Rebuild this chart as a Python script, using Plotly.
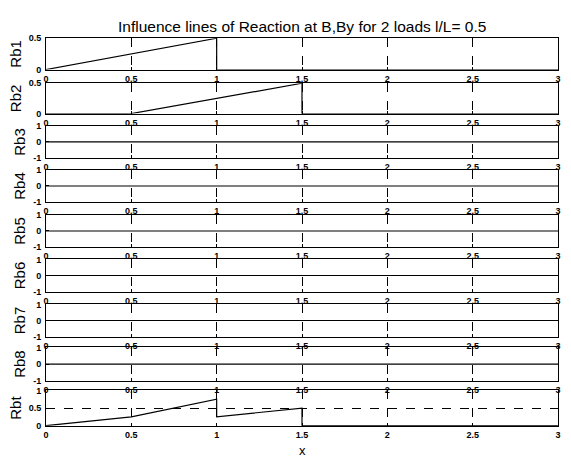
import plotly.graph_objects as go

# ---- data ----
names = ["Rb1", "Rb2", "Rb3", "Rb4", "Rb5", "Rb6", "Rb7", "Rb8", "Rbt"]
x_rb1 = [0, 1, 1, 3]
y_rb1 = [0, 0.5, 0, 0]
x_rb2 = [0, 0.5, 1.5, 1.5, 3]
y_rb2 = [0, 0, 0.5, 0, 0]
x_zero = [0, 3]
y_zero = [0, 0]
x_rbt = [0, 0.5, 1, 1, 1.5, 1.5, 3]
y_rbt = [0, 0.25, 0.75, 0.25, 0.5, 0, 0]
x_ticks = [0, 0.5, 1, 1.5, 2, 2.5, 3]
x_ticklabels = ["0", "0.5", "1", "1.5", "2", "2.5", "3"]
y_ranges = [[0, 0.5], [0, 0.5]] + [[-1, 1]] * 6 + [[0, 1]]
y_ticks = [[0, 0.5], [0, 0.5]] + [[-1, 0, 1]] * 6 + [[0, 0.5, 1]]
y_ticklabels = [["0", "0.5"], ["0", "0.5"]] + [["-1", "0", "1"]] * 6 + [["0", "0.5", "1"]]
series_x = [x_rb1, x_rb2] + [x_zero] * 6 + [x_rbt]
series_y = [y_rb1, y_rb2] + [y_zero] * 6 + [y_rbt]
title = "Influence lines of Reaction at B,By for 2 loads l/L= 0.5"

# ---- layout geometry (pixels) ----
W, H = 571, 461
tops = [34, 80, 124, 169, 215, 260, 306, 350, 394]
bottoms = [66, 111, 156, 201, 247, 293, 339, 384, 430]

fig = go.Figure()
FONT = "Liberation Sans, Arial, sans-serif"

for i in range(9):
    k = "" if i == 0 else str(i + 1)
    fig.add_trace(go.Scatter(
        x=series_x[i], y=series_y[i], mode="lines",
        line=dict(color="black", width=1.2),
        xaxis="x" + k, yaxis="y" + k, showlegend=False, hoverinfo="skip"))
    dom = [1 - bottoms[i] / H, 1 - tops[i] / H]
    common = dict(showline=True, linecolor="black", linewidth=1, mirror=True,
                  ticks="inside", ticklen=3, tickcolor="black",
                  gridcolor="black", gridwidth=1, griddash="dash",
                  zeroline=False,
                  tickfont=dict(family=FONT, size=9, color="black", weight="bold"))
    fig.layout["xaxis" + k] = dict(
        common, showgrid=True, domain=[0, 1], range=[0, 3], anchor="y" + k,
        tickvals=x_ticks, ticktext=x_ticklabels, ticklabelstandoff=1)
    fig.layout["yaxis" + k] = dict(
        common, showgrid=(i == 8), domain=dom, range=y_ranges[i], anchor="x" + k,
        tickvals=y_ticks[i], ticktext=y_ticklabels[i], ticklabelstandoff=2,
        title=dict(text=names[i], font=dict(family=FONT, size=15, color="black"), standoff=3))

fig.add_annotation(text=title, xref="paper", yref="paper", x=0.5, y=1 - 22 / H,
                   showarrow=False, font=dict(family=FONT, size=15.5, color="black"),
                   xanchor="center", yanchor="middle")
fig.add_annotation(text="x", xref="paper", yref="paper", x=0.5, y=1 - 455 / H,
                   showarrow=False, font=dict(family=FONT, size=13, color="black"),
                   xanchor="center", yanchor="middle")

fig.update_layout(width=W, height=H, margin=dict(l=46, r=13, t=0, b=0),
                  paper_bgcolor="white", plot_bgcolor="white")
fig.write_html("out.html")
